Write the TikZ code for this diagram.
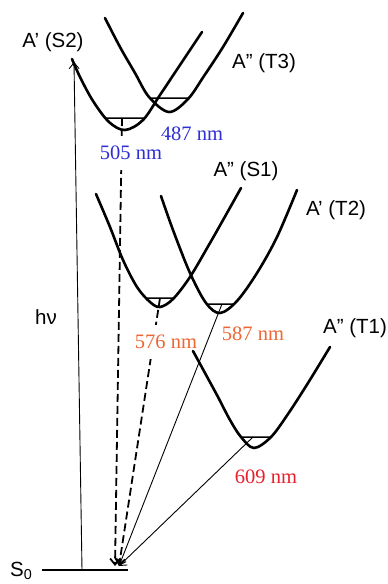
\documentclass[tikz,border=0pt]{standalone}
\usepackage{fontspec}
\setmainfont{Liberation Serif}
\setsansfont{Liberation Sans}
\usepackage{tikz}
\usetikzlibrary{arrows.meta,calc,intersections}
\definecolor{nmblue}{HTML}{2F2FD6}
\definecolor{nmorange}{HTML}{EE6636}
\definecolor{nmred}{HTML}{E8202C}

% potential well through hand-read points
\newcommand{\well}[2]{\draw[pes, name path=#1] plot[smooth, tension=0.55] coordinates {#2};}
% vibrational level cut off by its well
\newcommand{\vlevel}[2]{%
  \path[name path=#1h] (0,#2) -- (388,#2);
  \draw[lvl, name intersections={of=#1 and #1h}] (intersection-1) -- (intersection-2);}

\begin{document}
\begin{tikzpicture}[
  x=1pt, y=-1pt,
  state/.style={font=\sffamily\fontsize{20.5}{24}\selectfont, fill=white, inner sep=3pt},
  nm/.style={font=\rmfamily\fontsize{20.5}{24}\selectfont, fill=white, inner sep=3pt, minimum height=34pt},
  pes/.style={line width=2.6pt, line cap=round, line join=round},
  lvl/.style={line width=1.5pt},
  emit/.style={-{Straight Barb[length=6pt,width=10pt]}, line width=0.9pt},
  dashemit/.style={emit, line width=1.8pt, dash pattern=on 8pt off 4pt}
]
  \useasboundingbox (0,0) rectangle (388,584);

  % ground state and end points
  \coordinate (s0l) at (42,570);
  \coordinate (s0r) at (128,570);
  \coordinate (g1) at (115,566);
  \coordinate (g2) at (119,566);
  \coordinate (hvb) at (82,570);
  \coordinate (hvt) at (74,62);

  % where the transitions leave the levels
  \coordinate (s2o) at (122,118);
  \coordinate (s1o) at (160,298);
  \coordinate (t2o) at (222,304);
  \coordinate (t1o) at (253,437);

  % dashed emissions (partly hidden by the labels)
  \draw[dashemit] (s2o) -- (g1);
  \draw[dashemit] (s1o) -- (g2);

  % labels
  \node[state] (lS2) at (53,42) {A’ (S2)};
  \node[state] (lT3) at (264,63) {A” (T3)};
  \node[state] (lS1) at (246,171) {A” (S1)};
  \node[state] (lT2) at (336,210) {A’ (T2)};
  \node[state] (lT1) at (355,328) {A” (T1)};
  \node[state] (hv) at (46,317) {hν};
  \node[nm, text=nmblue] (n487) at (192,134) {487 nm};
  \node[nm, text=nmblue] (n505) at (131,153) {505 nm};
  \node[nm, text=nmorange] (n576) at (166,342) {576 nm};
  \node[nm, text=nmorange] (n587) at (253,334) {587 nm};
  \node[nm, text=nmred] (n609) at (266,477) {609 nm};
  \node[state, fill=none, anchor=base west] (s0) at (7,576) {S\textsubscript{0}};

  % wells
  \well{wS2}{(72,59) (80,77) (93,101) (109,122) (125,130) (143,120) (160,95) (180,65) (202,32)}
  \well{wT3}{(105,18) (120,47) (135,73) (149,97) (169,112) (188,99) (204,76) (223,47) (243,13)}
  \well{wS1}{(96,194) (110,227) (123,260) (137,287) (150,302) (160,307) (173,299) (190,277) (210,243) (227,213) (241,188)}
  \well{wT2}{(161,196) (173,230) (190,273) (206,303) (220,313) (237,301) (257,273) (277,237) (297,190)}
  \well{wT1}{(193,351) (205,373) (218,397) (230,420) (241,437) (254,448) (271,437) (288,414) (308,383) (330,347)}

  \vlevel{wS2}{118}
  \vlevel{wT3}{98}
  \vlevel{wS1}{298}
  \vlevel{wT2}{304}
  \vlevel{wT1}{437}

  % solid emissions
  \draw[emit] (t2o) -- (g2);
  \draw[emit] (t1o) -- (g2);

  % excitation and ground state
  \draw[emit] (hvb) -- (hvt);
  \draw[line width=2.8pt] (s0l) -- (s0r);
\end{tikzpicture}
\end{document}
